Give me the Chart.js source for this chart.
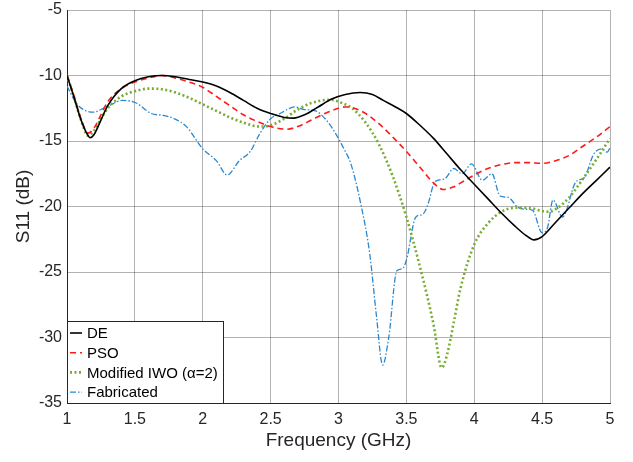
<!DOCTYPE html>
<html>
<head>
<meta charset="utf-8">
<script src="https://cdn.jsdelivr.net/npm/chart.js@4.4.0/dist/chart.umd.min.js"></script>
<style>
  html, body { margin: 0; padding: 0; background: #fff; }
  #wrap { width: 633px; height: 462px; }
</style>
</head>
<body>
<div id="wrap"><canvas id="s11Chart"></canvas></div>
<script>
// S11 curves (frequency in GHz, S11 in dB)
const freqDE = [1.0, 1.05, 1.1, 1.15, 1.17, 1.2, 1.25, 1.3, 1.4, 1.5, 1.6, 1.7, 1.8, 1.9, 2.0, 2.1, 2.2, 2.3, 2.4, 2.5, 2.6, 2.67, 2.75, 2.85, 2.95, 3.05, 3.16, 3.25, 3.33, 3.42, 3.5, 3.6, 3.7, 3.8, 3.9, 4.0, 4.1, 4.2, 4.3, 4.38, 4.44, 4.5, 4.6, 4.7, 4.8, 4.9, 5.0];
const s11DE = [-10.0, -11.6, -13.3, -14.5, -14.75, -14.5, -13.4, -12.3, -11.0, -10.4, -10.1, -10.0, -10.1, -10.3, -10.5, -10.8, -11.3, -11.9, -12.5, -12.9, -13.2, -13.25, -13.0, -12.4, -11.8, -11.45, -11.3, -11.45, -11.9, -12.4, -12.9, -13.8, -14.8, -16.0, -17.2, -18.3, -19.4, -20.5, -21.5, -22.2, -22.55, -22.3, -21.2, -20.1, -19.0, -18.0, -17.0];

const freqPSO = [1.0, 1.05, 1.1, 1.155, 1.2, 1.25, 1.3, 1.4, 1.5, 1.6, 1.7, 1.8, 1.9, 2.0, 2.1, 2.2, 2.3, 2.4, 2.5, 2.62, 2.7, 2.8, 2.9, 3.0, 3.05, 3.1, 3.2, 3.3, 3.4, 3.5, 3.6, 3.7, 3.77, 3.85, 3.9, 4.0, 4.1, 4.2, 4.3, 4.4, 4.5, 4.6, 4.7, 4.8, 4.9, 5.0];
const s11PSO = [-10.0, -11.5, -13.2, -14.4, -14.0, -13.0, -12.0, -11.0, -10.5, -10.2, -10.0, -10.2, -10.5, -10.9, -11.6, -12.3, -13.0, -13.5, -13.9, -14.1, -13.9, -13.4, -12.9, -12.5, -12.4, -12.45, -12.9, -13.7, -14.7, -15.8, -17.0, -18.2, -18.7, -18.5, -18.2, -17.6, -17.1, -16.8, -16.65, -16.65, -16.7, -16.5, -16.1, -15.4, -14.7, -13.9];

const freqIWO = [1.0, 1.05, 1.1, 1.155, 1.2, 1.25, 1.3, 1.4, 1.5, 1.6, 1.7, 1.8, 1.9, 2.0, 2.1, 2.2, 2.3, 2.42, 2.5, 2.6, 2.7, 2.8, 2.94, 3.0, 3.1, 3.2, 3.3, 3.4, 3.5, 3.6, 3.7, 3.76, 3.8, 3.85, 3.9, 4.0, 4.1, 4.2, 4.3, 4.4, 4.5, 4.55, 4.6, 4.7, 4.8, 4.9, 5.0];
const s11IWO = [-10.0, -11.6, -13.3, -14.6, -14.2, -13.3, -12.5, -11.6, -11.2, -11.0, -11.05, -11.3, -11.7, -12.2, -12.7, -13.2, -13.6, -13.9, -13.8, -13.3, -12.6, -12.1, -11.85, -12.0, -12.5, -13.6, -15.3, -17.7, -20.8, -24.6, -29.0, -32.3, -31.3, -28.8, -26.2, -22.9, -21.3, -20.4, -20.1, -20.1, -20.35, -20.4, -20.2, -19.3, -17.9, -16.4, -14.8];

const freqFab = [1.0, 1.05, 1.094, 1.19, 1.29, 1.41, 1.51, 1.62, 1.71, 1.79, 1.88, 2.0, 2.1, 2.18, 2.27, 2.35, 2.42, 2.5, 2.57, 2.68, 2.75, 2.83, 2.91, 2.98, 3.04, 3.09, 3.16, 3.23, 3.28, 3.325, 3.37, 3.43, 3.47, 3.5, 3.57, 3.62, 3.66, 3.71, 3.78, 3.85, 3.91, 3.98, 4.06, 4.13, 4.19, 4.25, 4.32, 4.37, 4.43, 4.5, 4.54, 4.58, 4.65, 4.75, 4.81, 4.88, 4.94, 4.98, 5.0];
const s11Fab = [-10.8, -11.8, -12.4, -12.8, -12.4, -11.9, -12.1, -12.9, -13.05, -13.3, -13.9, -15.6, -16.5, -17.6, -16.5, -15.8, -14.45, -13.3, -12.9, -12.4, -12.6, -12.7, -13.4, -14.45, -15.6, -16.7, -19.6, -23.6, -28.4, -32.1, -30.0, -24.9, -24.75, -24.1, -20.8, -20.6, -19.8, -18.1, -17.9, -17.1, -17.5, -16.75, -18.0, -17.5, -19.2, -19.3, -20.05, -20.2, -20.3, -22.0, -21.6, -19.5, -20.8, -18.1, -17.8, -16.0, -15.6, -15.85, -15.5];

const seriesNames = ["DE", "PSO", "Modified IWO (\u03b1=2)", "Fabricated"];
const xTicks = [1, 1.5, 2, 2.5, 3, 3.5, 4, 4.5, 5];
const yTicks = [-5, -10, -15, -20, -25, -30, -35];

const FONT = "'Liberation Sans', Arial, sans-serif";
const toPoints = (xs, ys) => xs.map((x, i) => ({ x: x, y: ys[i] }));

const styles = [
  { color: "#000000", dash: [], width: 1.6 },
  { color: "#ff1a1a", dash: [6, 4], width: 1.6 },
  { color: "#77ac30", dash: [2, 2.5], width: 2.6 },
  { color: "#2a88d0", dash: [6, 2, 1.5, 2], width: 1.3 },
];
const allData = [
  toPoints(freqDE, s11DE),
  toPoints(freqPSO, s11PSO),
  toPoints(freqIWO, s11IWO),
  toPoints(freqFab, s11Fab),
];

// legend box drawn inside the plot, bottom-left like the MATLAB figure
const boxLegend = {
  id: "boxLegend",
  afterDatasetsDraw(chart) {
    const ctx = chart.ctx;
    const area = chart.chartArea;
    const x0 = area.left, y1 = area.bottom;
    const w = 157, h = 82;
    ctx.save();
    ctx.fillStyle = "#fff";
    ctx.fillRect(x0, y1 - h, w, h);
    ctx.strokeStyle = "#262626";
    ctx.lineWidth = 1;
    ctx.strokeRect(x0 + 0.5, y1 - h + 0.5, w - 1, h);
    ctx.font = "15px " + FONT;
    ctx.textBaseline = "middle";
    seriesNames.forEach((name, i) => {
      const yy = y1 - h + 12 + i * 19.7;
      const st = styles[i];
      ctx.strokeStyle = st.color;
      ctx.lineWidth = st.width;
      ctx.setLineDash(st.dash);
      ctx.beginPath();
      ctx.moveTo(x0 + 3, yy);
      ctx.lineTo(x0 + 15, yy);
      ctx.stroke();
      ctx.setLineDash([]);
      ctx.fillStyle = "#000";
      ctx.fillText(name, x0 + 20, yy + 1);
    });
    ctx.restore();
  },
};

const ctx = document.getElementById("s11Chart").getContext("2d");
const chart = new Chart(ctx, {
  type: "line",
  data: {
    datasets: allData.map((pts, i) => ({
      label: seriesNames[i],
      data: pts,
      borderColor: styles[i].color,
      borderDash: styles[i].dash,
      borderWidth: styles[i].width,
      pointRadius: 0,
      fill: false,
      cubicInterpolationMode: "monotone",
    })),
  },
  options: {
    responsive: true,
    maintainAspectRatio: false,
    animation: false,
    layout: { padding: { top: 10, right: 23, left: 0, bottom: 0 } },
    plugins: {
      legend: { display: false },
      tooltip: { enabled: false },
    },
    scales: {
      x: {
        type: "linear",
        min: 1,
        max: 5,
        afterBuildTicks: (axis) => { axis.ticks = xTicks.map((v) => ({ value: v })); },
        afterFit: (axis) => { axis.height = 59; axis.paddingLeft = 0; axis.paddingRight = 0; },
        grid: { color: "rgba(0,0,0,0.3)", drawTicks: false },
        border: { color: "#262626" },
        ticks: {
          color: "#262626",
          padding: 7,
          font: { size: 16, family: FONT },
          maxRotation: 0,
          callback: (v) => String(v),
        },
        title: {
          display: true,
          text: "Frequency (GHz)",
          color: "#262626",
          padding: { top: 0, bottom: 10 },
          font: { size: 19, family: FONT },
        },
      },
      y: {
        min: -35,
        max: -5,
        afterBuildTicks: (axis) => { axis.ticks = yTicks.map((v) => ({ value: v })); },
        afterFit: (axis) => { axis.width = 67; axis.paddingTop = 0; axis.paddingBottom = 0; },
        grid: { color: "rgba(0,0,0,0.3)", drawTicks: false },
        border: { color: "#262626" },
        ticks: {
          color: "#262626",
          padding: 5,
          font: { size: 16, family: FONT },
        },
        title: {
          display: true,
          text: "S11 (dB)",
          color: "#262626",
          padding: { top: 12, bottom: 0 },
          font: { size: 19, family: FONT },
        },
      },
    },
  },
  plugins: [boxLegend],
});
</script>
</body>
</html>
